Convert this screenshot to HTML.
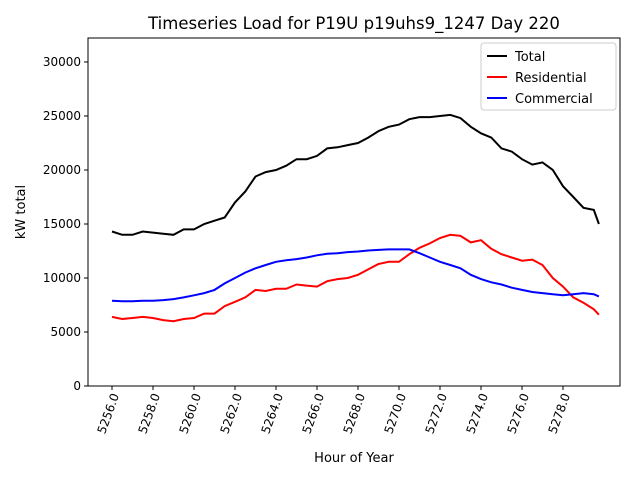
<!DOCTYPE html>
<html><head><meta charset="utf-8"><style>
body{margin:0;background:#fff;font-family:"Liberation Sans","DejaVu Sans",sans-serif;}
svg text{font-family:"DejaVu Sans","Liberation Sans",sans-serif;}
</style></head><body>
<svg id="chart" width="640" height="480" xmlns="http://www.w3.org/2000/svg">
<rect width="640" height="480" fill="#fff"/>
<text x="354" y="29" font-size="16.5" text-anchor="middle">Timeseries Load for P19U p19uhs9_1247  Day 220</text>
<g id="plot"></g>
<text x="354" y="462" font-size="13" text-anchor="middle">Hour of Year</text>
<text transform="translate(25,212) rotate(-90)" font-size="13" text-anchor="middle">kW total</text>
</svg>
<script>
const hours=[5256,5256.5,5257,5257.5,5258,5258.5,5259,5259.5,5260,5260.5,5261,5261.5,5262,5262.5,5263,5263.5,5264,5264.5,5265,5265.5,5266,5266.5,5267,5267.5,5268,5268.5,5269,5269.5,5270,5270.5,5271,5271.5,5272,5272.5,5273,5273.5,5274,5274.5,5275,5275.5,5276,5276.5,5277,5277.5,5278,5278.5,5279,5279.5,5279.75];
const totalLoad=[14300,14000,14000,14300,14200,14100,14000,14500,14500,15000,15300,15600,17000,18000,19400,19800,20000,20400,21000,21000,21300,22000,22100,22300,22500,23000,23600,24000,24200,24700,24900,24900,25000,25100,24800,24000,23400,23000,22000,21700,21000,20500,20700,20000,18500,17500,16500,16300,15000];
const residential=[6400,6200,6300,6400,6300,6100,6000,6200,6300,6700,6700,7400,7800,8200,8900,8800,9000,9000,9400,9300,9200,9700,9900,10000,10300,10800,11300,11500,11500,12200,12800,13200,13700,14000,13900,13300,13500,12700,12200,11900,11600,11700,11200,10000,9200,8200,7700,7100,6600];
const commercial=[7900,7850,7850,7900,7900,7950,8050,8200,8400,8600,8900,9500,10000,10500,10900,11200,11500,11650,11750,11900,12100,12250,12300,12400,12450,12550,12600,12650,12650,12650,12300,11900,11500,11200,10900,10300,9900,9600,9400,9100,8900,8700,8600,8500,8400,8500,8600,8500,8300];
const xTicks=[5256,5258,5260,5262,5264,5266,5268,5270,5272,5274,5276,5278];
const yTicks=[0,5000,10000,15000,20000,25000,30000];
const seriesNames=["Total","Residential","Commercial"];
const seriesColors=["#000","#f00","#00f"];
const L=88,R=620,T=38,B=386;
const xmin=5254.83,xmax=5280.78,ymin=0,ymax=32220;
const xs=v=>L+(v-xmin)/(xmax-xmin)*(R-L);
const ys=v=>B-(v-ymin)/(ymax-ymin)*(B-T);
const NS="http://www.w3.org/2000/svg";
const g=document.getElementById('plot');
function mk(t,a){const e=document.createElementNS(NS,t);for(const k in a)e.setAttribute(k,a[k]);g.appendChild(e);return e;}
[totalLoad,residential,commercial].forEach((arr,i)=>{
  const p=mk('polyline',{points:arr.map((v,j)=>xs(hours[j]).toFixed(1)+','+ys(v).toFixed(1)).join(' '),fill:'none',stroke:seriesColors[i],'stroke-width':2});
  
  
});
const fr=mk('rect',{x:L,y:T,width:R-L,height:B-T,fill:'none',stroke:'#000','stroke-width':1});


xTicks.forEach(t=>{
  const x=xs(t);
  mk('line',{x1:x,x2:x,y1:B,y2:B+4,stroke:'#000'});
  const tx=mk('text',{transform:`translate(${x+4},${B+8}) rotate(-70)`,'font-size':12,'text-anchor':'end','dominant-baseline':'middle'});
  tx.textContent=t.toFixed(1);
  
  
});
yTicks.forEach(t=>{
  const y=ys(t);
  mk('line',{x1:L-4,x2:L,y1:y,y2:y,stroke:'#000'});
  const tx=mk('text',{x:L-7,y:y+4,'font-size':12,'text-anchor':'end'});
  tx.textContent=t;
  
  
});
const lg=mk('rect',{x:481,y:43,width:135,height:67,rx:3,fill:'#fff',stroke:'#ccc'});


seriesNames.forEach((n,i)=>{
  const y=56+i*21;
  mk('line',{x1:487,x2:507,y1:y,y2:y,stroke:seriesColors[i],'stroke-width':2});
  const tx=mk('text',{x:515,y:y+5,'font-size':13});
  tx.textContent=n;
  
  
});
</script>
</body></html>
